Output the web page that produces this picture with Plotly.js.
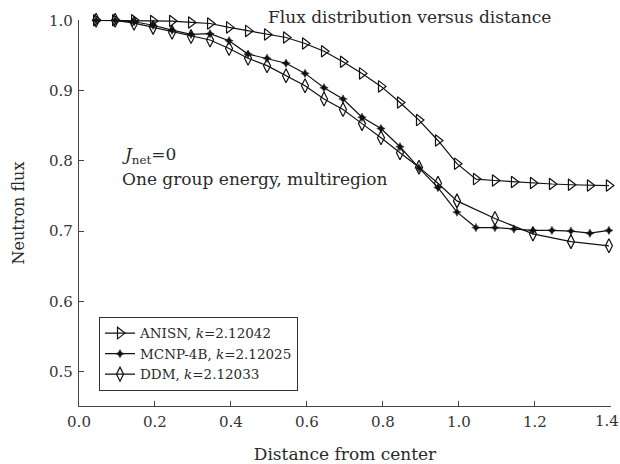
<!DOCTYPE html>
<html>
<head>
<meta charset="utf-8">
<script src="https://cdn.plot.ly/plotly-3.0.1.min.js"></script>
<style>html,body{margin:0;padding:0;background:#fff;}#chart{width:620px;height:464px;}</style>
</head>
<body>
<div id="chart"></div>
<script>
// Distance from center (mesh points)
const xAll = [0.045,0.095,0.145,0.195,0.245,0.295,0.345,0.395,0.445,0.495,0.545,0.595,0.645,0.695,
              0.745,0.795,0.845,0.895,0.945,0.995,1.045,1.095,1.145,1.195,1.245,1.295,1.345,1.395];
const anisnFlux = [1.000,1.000,1.000,0.999,0.999,0.997,0.9955,0.990,0.985,0.980,0.9756,0.967,0.956,0.941,
                   0.9245,0.906,0.883,0.858,0.829,0.796,0.774,0.772,0.770,0.7685,0.767,0.766,0.765,0.7648];
const mcnpFlux = [1.000,1.000,0.998,0.993,0.986,0.980,0.981,0.971,0.952,0.946,0.939,0.9245,0.904,0.888,
                  0.862,0.846,0.820,0.790,0.762,0.727,0.705,0.705,0.703,0.701,0.701,0.700,0.697,0.701];
const xDDM = [0.045,0.095,0.145,0.195,0.245,0.295,0.345,0.395,0.445,0.495,0.545,0.595,0.645,0.695,
              0.745,0.795,0.845,0.895,0.945,0.995,1.095,1.195,1.295,1.395];
const ddmFlux = [1.000,1.000,0.996,0.990,0.983,0.977,0.972,0.960,0.946,0.9355,0.921,0.907,0.888,0.873,
                 0.853,0.833,0.8115,0.791,0.768,0.743,0.718,0.696,0.685,0.679];
const seriesNames = ['ANISN, <i>k</i>=2.12042','MCNP-4B, <i>k</i>=2.12025','DDM, <i>k</i>=2.12033'];
const yTicks = [0.5,0.6,0.7,0.8,0.9,1.0];
const xTicks = [0.0,0.2,0.4,0.6,0.8,1.0,1.2,1.4];
const xTickText = ['0.0','0.2','0.4','0.6','0.8','1.0','1.2',''];
const lastXTick = '1.4';   // drawn as an annotation so it stays inside the page edge

const serif = 'DejaVu Serif, serif';
const txt = '#2a2a2a';
const lineStyle = {color:'#111', width:1.2};
const traces = [
  {x:xAll, y:anisnFlux, name:seriesNames[0], mode:'lines+markers', line:lineStyle, cliponaxis:false,
   marker:{symbol:'triangle-right-open', size:10, color:'#111', line:{width:1.2, color:'#111'}}},
  {x:xAll, y:mcnpFlux, name:seriesNames[1], mode:'lines+markers', line:lineStyle, cliponaxis:false,
   marker:{symbol:'star-diamond', size:6, color:'#111', line:{width:0.5, color:'#111'}}},
  {x:xDDM, y:ddmFlux, name:seriesNames[2], mode:'lines+markers', line:lineStyle, cliponaxis:false,
   marker:{symbol:'diamond-tall-open', size:10, color:'#111', line:{width:1.2, color:'#111'}}}
];

const layout = {
  width:620, height:464,
  margin:{l:79, r:9, t:19.5, b:57.5},
  paper_bgcolor:'#fff', plot_bgcolor:'#fff',
  font:{family:serif, size:14, color:txt},
  showlegend:true,
  legend:{x:0.0376, y:0.231, xanchor:'left', yanchor:'top', bgcolor:'#fff',
          bordercolor:'#333', borderwidth:1, font:{family:serif, size:13.5, color:txt},
          itemwidth:30, tracegroupgap:0},
  xaxis:{range:[0,1.4005], tickvals:xTicks, ticktext:xTickText,
         showline:true, linecolor:'#444', linewidth:1.2, ticks:'inside', ticklen:5, tickcolor:'#444',
         showgrid:false, zeroline:false, mirror:false, ticklabelstandoff:2,
         title:{text:'Distance from center', font:{family:serif, size:17, color:txt}, standoff:18},
         tickfont:{family:serif, size:15, color:'#333'}},
  yaxis:{range:[0.451,1.0005], tickvals:yTicks, ticktext:yTicks.map(v=>v.toFixed(1)),
         showline:true, linecolor:'#444', linewidth:1.2, ticks:'inside', ticklen:5, tickcolor:'#444',
         showgrid:false, zeroline:false, mirror:false, ticklabelstandoff:2, ticklabeloverflow:'allow',
         title:{text:'Neutron flux', font:{family:serif, size:16, color:txt}, standoff:20},
         tickfont:{family:serif, size:15, color:'#333'}},
  annotations:[
    {xref:'paper', yref:'paper', x:0.622, y:1.0065, xanchor:'center', yanchor:'middle', showarrow:false,
     text:'Flux distribution versus distance', font:{family:serif, size:17, color:txt}},
    {xref:'paper', yref:'paper', x:0.077, y:0.648, xanchor:'left', yanchor:'middle', showarrow:false,
     text:'<i>J</i><sub>net</sub>=0', font:{family:serif, size:17, color:txt}},
    {xref:'paper', yref:'paper', x:0.077, y:0.589, xanchor:'left', yanchor:'middle', showarrow:false,
     text:'One group energy, multiregion', font:{family:serif, size:17, color:txt}},
    {xref:'x', yref:'paper', x:1.4, y:0, xanchor:'center', yanchor:'top', xshift:-4, yshift:-5,
     showarrow:false, borderpad:0, text:lastXTick, font:{family:serif, size:15, color:'#333'}}
  ]
};

Plotly.newPlot('chart', traces, layout, {displayModeBar:false, staticPlot:true});
</script>
</body>
</html>
